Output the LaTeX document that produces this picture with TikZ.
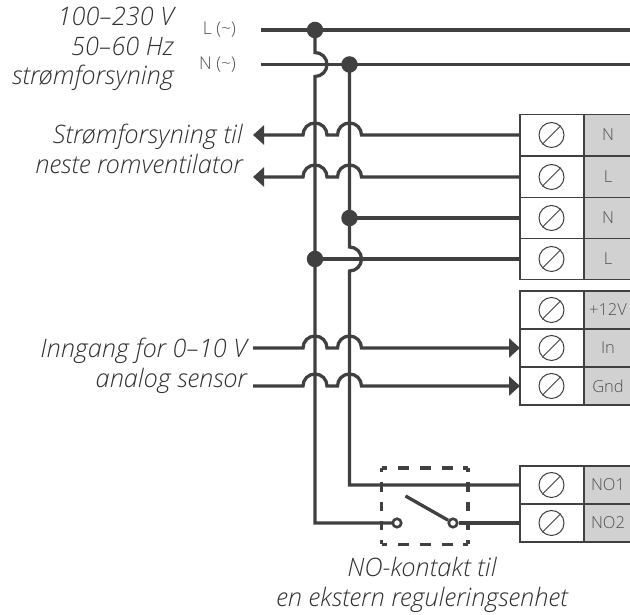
\documentclass[tikz,border=0pt]{standalone}
\usepackage{fontspec}
\setmainfont{Open Sans Light}[ItalicFont={Open Sans Light Italic}]
\usetikzlibrary{arrows.meta}
\definecolor{wirecol}{HTML}{404040}
\definecolor{padcol}{HTML}{D1D1D1}
\definecolor{labelcol}{HTML}{505050}
\definecolor{captioncol}{HTML}{303030}
\tikzset{
  wire/.style={line width=3.3pt,draw=wirecol},
  head/.style={-{Triangle[length=11pt,width=19pt,inset=0pt]}},
  junction/.style={circle,fill=wirecol,inner sep=0pt,minimum size=16.5pt},
  contact/.style={circle,draw=wirecol,line width=2.6pt,fill=white,inner sep=0pt,minimum size=8.5pt},
  caption/.style={font=\fontsize{25.4}{29.5}\selectfont\itshape,text=captioncol,align=center,inner sep=0pt},
  small/.style={font=\fontsize{17.5}{20}\selectfont,text=labelcol,inner sep=0pt},
  pinlabel/.style={font=\fontsize{16.5}{18}\selectfont,text=labelcol,inner sep=0pt},
  screw/.style={circle,draw=wirecol,line width=1pt,minimum size=25pt,inner sep=0pt},
  cell/.style={draw=wirecol,line width=1.1pt},
  boxh/.style={wire,dash pattern=on 11pt off 10.8pt,dash phase=5.5pt},
  boxv/.style={wire,dash pattern=on 9.5pt off 9.8pt,dash phase=5pt},
}
\begin{document}
\begin{tikzpicture}[x=1pt,y=1pt]
  \useasboundingbox (0,0) rectangle (630,615);

  % terminal blocks: name/y centre/half height/label
  \foreach \name/\y/\h/\txt in {a/480/20.6/N,b/438/20.6/L,c/397/20.6/N,d/356/20.6/L,
                                e/305/19/+12V,f/267/19/In,g/229/19/Gnd,
                                h/130/19/NO1,i/92/19/NO2}
  {
    \fill[padcol] (584,\y-\h) rectangle (630,\y+\h);
    \draw[cell] (630,\y+\h) -- (520,\y+\h) -- (520,\y-\h) -- (630,\y-\h);
    \draw[cell] (584,\y+\h) -- (584,\y-\h);
    \node[screw] (screw\name) at (551.5,\y) {};
    \draw[line width=1pt,draw=wirecol] (screw\name.north east) -- (screw\name.south west);
    \node[pinlabel] (pin\name) at (608,\y) {\txt};
    \coordinate (term\name) at (520,\y);
  }

  \coordinate (Lstart) at (261,585);
  \coordinate (Lend) at (630,585);
  \coordinate (Nstart) at (261,550.5);
  \coordinate (Nend) at (630,550.5);

  % mains
  \draw[wire] (Lstart) -- (Lend);
  \draw[wire] (Nstart) -- (Nend);

  % verticals with hop over N and over the L tap
  \draw[wire] (315,585) -- (315,562.5) arc[start angle=90,end angle=-90,radius=12]
      -- (315,92) -- (393,92);
  \draw[wire] (349.5,550.5) -- (349.5,368) arc[start angle=90,end angle=-90,radius=12]
      -- (349.5,130) -- (termh);

  % horizontals with hops
  \foreach \nm/\y in {terma/480,termb/438}
    \draw[wire,head] (\nm) -- (361.5,\y) arc[start angle=0,end angle=180,radius=12]
      -- (327,\y) arc[start angle=0,end angle=180,radius=12] -- (253,\y);
  \foreach \nm/\y in {termf/267,termg/229}
    \draw[wire,head] (253,\y) -- (303,\y) arc[start angle=180,end angle=0,radius=12]
      -- (337.5,\y) arc[start angle=180,end angle=0,radius=12] -- (\nm);
  \draw[wire] (349.5,397) -- (termc);
  \draw[wire] (315,356) -- (termd);

  % junctions
  \node[junction] (jL) at (315,585) {};
  \node[junction] (jN) at (349.5,550.5) {};
  \node[junction] (jNb) at (349.5,397) {};
  \node[junction] (jLb) at (315,356) {};

  % switch
  \draw[boxh] (381.7,147) -- (468,147);
  \draw[boxh] (381.7,70.7) -- (468,70.7);
  \draw[boxv] (381.7,147) -- (381.7,70.7);
  \draw[boxv] (468,147) -- (468,70.7);
  \node[contact] (swA) at (397,92) {};
  \node[contact] (swB) at (453,92) {};
  \coordinate (lever) at (405.5,119);
  \draw[wire] (swB) -- (termi);
  \draw[wire] (swB) -- (lever);

  % texts
  \node[caption,align=right,anchor=east] (mains) at (174,566) {100--230 V\\50--60 Hz\\strømforsyning};
  \node[small,anchor=east] (labL) at (236,585) {L (\textasciitilde)};
  \node[small,anchor=east] (labN) at (236,550.5) {N (\textasciitilde)};
  \node[caption,anchor=east,align=right] (next) at (243,466) {Strømforsyning til\\neste romventilator};
  \node[caption,anchor=east,align=right] (sensor) at (247,249) {Inngang for 0--10 V\\analog sensor};
  \node[caption] (nocap) at (422,30) {NO-kontakt til\\en ekstern reguleringsenhet};
\end{tikzpicture}
\end{document}
